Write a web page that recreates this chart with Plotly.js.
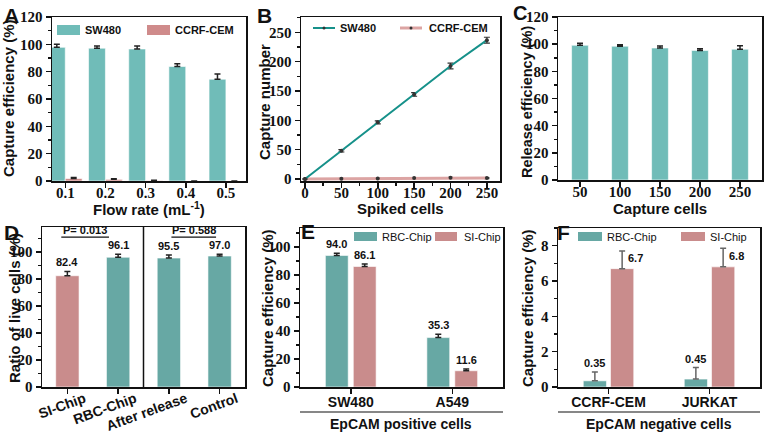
<!DOCTYPE html>
<html><head><meta charset="utf-8">
<script src="https://cdn.plot.ly/plotly-3.0.1.min.js"></script>
<style>html,body{margin:0;padding:0;background:#fff}#chart{width:764px;height:435px}</style>
</head><body><div id="chart"></div>
<script>
// ---------------- data ----------------
const flowRates = ['0.1', '0.2', '0.3', '0.4', '0.5'];
const flowSW480 = [97.8, 97.2, 96.6, 83.8, 74.5];
const flowSW480Err = [2.2, 1.5, 2.2, 2.0, 3.8];
const flowCCRF = [1.8, 1.2, 0.3, 0, 0];
const flowCCRFErr = [0.8, 0.5, 0.2, 0, 0];

const spikedCells = [0, 50, 100, 150, 200, 250];
const spikedSW480 = [0, 48, 96.5, 144, 192.5, 236.5];
const spikedSW480Err = [0, 2, 2.5, 3, 5, 5];
const spikedCCRF = [0, 0.5, 1, 1.5, 2, 1.5];
const spikedCCRFErr = [0, 0.5, 0.5, 0.8, 1, 0.8];

const captureCells = ['50', '100', '150', '200', '250'];
const releaseEff = [99.2, 98.5, 97.2, 95.4, 96.3];
const releaseErr = [1.5, 1.0, 1.5, 1.2, 2.5];

const viabGroups = ['SI-Chip', 'RBC-Chip', 'After release', 'Control'];
const viabVals = [82.4, 96.1, 95.5, 97.0];
const viabErr = [3.2, 2.2, 2.2, 1.3];
const viabLabels = ['82.4', '96.1', '95.5', '97.0'];
const pLabels = ['P= 0.013', 'P= 0.588'];

const posCells = ['SW480', 'A549'];
const posRBC = [94.0, 35.3];
const posRBCErr = [1.5, 2.3];
const posSI = [86.1, 11.6];
const posSIErr = [1.8, 1.3];
const posRBCLabels = ['94.0', '35.3'];
const posSILabels = ['86.1', '11.6'];

const negCells = ['CCRF-CEM', 'JURKAT'];
const negRBC = [0.35, 0.45];
const negRBCErr = [0.5, 0.65];
const negSI = [6.7, 6.8];
const negSIErr = [1.0, 1.05];
const negRBCLabels = ['0.35', '0.45'];
const negSILabels = ['6.7', '6.8'];

// ---------------- styles ----------------
const W = 764, H = 435;
const P = px => px / W;
const Q = py => 1 - py / H;
const teal1 = '#70bcb8', teal2 = '#67a8a4', pink1 = '#cf8b8b', pink2 = '#c98c8c';
const lineTeal = '#16918a', linePink = '#dca4a3';
const ink = '#111';
const serif = {family: 'serif', size: 15, color: ink, weight: 'bold'};
const sans = (size, weight) => ({family: 'Liberation Sans', size: size, color: ink, weight: weight || 'bold'});
const zeros = a => a.map(() => 0);
const upErr = (arr, color) => ({type: 'data', array: arr, arrayminus: zeros(arr), symmetric: false, color: color || '#222', thickness: 1.5, width: 3});
const edge = {color: 'rgba(255,255,255,0.6)', width: 1};
const minorY = d => ({ticks: 'outside', ticklen: 3, tickwidth: 1.5, tickcolor: ink, dtick: d});

function axis(px0, px1, extra) {
  return Object.assign({
    domain: [P(px0), P(px1)], showline: true, linecolor: ink, linewidth: 1.5, mirror: true,
    ticks: 'outside', ticklen: 5, tickwidth: 1.5, tickcolor: ink, showgrid: false, zeroline: false,
    tickfont: serif, fixedrange: true
  }, extra);
}
function yaxisDef(py0, py1, extra) {
  return Object.assign({
    domain: [Q(py1), Q(py0)], showline: true, linecolor: ink, linewidth: 1.5, mirror: true,
    ticks: 'outside', ticklen: 5, tickwidth: 1.5, tickcolor: ink, showgrid: false, zeroline: false,
    tickfont: serif, fixedrange: true
  }, extra);
}

const idx = a => a.map((_, i) => i);
const traces = [];

// A
traces.push({type: 'bar', x: idx(flowRates), y: flowSW480, xaxis: 'x', yaxis: 'y', width: 0.42, offset: -0.42,
  marker: {color: teal1, line: edge}, error_y: upErr(flowSW480Err), showlegend: false});
traces.push({type: 'bar', x: idx(flowRates), y: flowCCRF, xaxis: 'x', yaxis: 'y', width: 0.42, offset: 0,
  marker: {color: pink1, line: edge}, error_y: upErr(flowCCRFErr), showlegend: false});
// B
traces.push({type: 'scatter', mode: 'lines+markers', x: spikedCells, y: spikedCCRF, xaxis: 'x2', yaxis: 'y2',
  line: {color: linePink, width: 3}, marker: {color: '#333', size: 4},
  error_y: {type: 'data', array: spikedCCRFErr, color: '#333', thickness: 1.2, width: 2.5}, showlegend: false});
traces.push({type: 'scatter', mode: 'lines+markers', x: spikedCells, y: spikedSW480, xaxis: 'x2', yaxis: 'y2',
  line: {color: lineTeal, width: 2}, marker: {color: '#333', size: 4},
  error_y: {type: 'data', array: spikedSW480Err, color: '#333', thickness: 1.2, width: 3}, showlegend: false});
// C
traces.push({type: 'bar', x: idx(captureCells), y: releaseEff, xaxis: 'x3', yaxis: 'y3', width: 0.42,
  marker: {color: teal1, line: edge}, error_y: upErr(releaseErr), showlegend: false});
// D
traces.push({type: 'bar', x: idx(viabGroups), y: viabVals, xaxis: 'x4', yaxis: 'y4', width: 0.46,
  marker: {color: [pink2, teal2, teal2, teal2], line: edge}, error_y: upErr(viabErr), showlegend: false});
// E
const eW = 0.225, eOffR = -0.25, eOffS = 0.025;
traces.push({type: 'bar', x: idx(posCells), y: posRBC, xaxis: 'x5', yaxis: 'y5', width: eW, offset: eOffR,
  marker: {color: teal2, line: edge}, error_y: upErr(posRBCErr), showlegend: false});
traces.push({type: 'bar', x: idx(posCells), y: posSI, xaxis: 'x5', yaxis: 'y5', width: eW, offset: eOffS,
  marker: {color: pink2, line: edge}, error_y: upErr(posSIErr), showlegend: false});
// F
const fW = 0.23, fOffR = -0.25, fOffS = 0.02;
traces.push({type: 'bar', x: idx(negCells), y: negRBC, xaxis: 'x6', yaxis: 'y6', width: fW, offset: fOffR,
  marker: {color: teal2, line: edge}, error_y: upErr(negRBCErr, '#666'), showlegend: false});
traces.push({type: 'bar', x: idx(negCells), y: negSI, xaxis: 'x6', yaxis: 'y6', width: fW, offset: fOffS,
  marker: {color: pink2, line: edge}, error_y: upErr(negSIErr, '#666'), showlegend: false});

// ---------------- annotations ----------------
const ann = [];
function txt(text, x, y, font, o) {
  ann.push(Object.assign({text: text, x: x, y: y, xref: 'paper', yref: 'paper', showarrow: false, font: font,
    xanchor: 'center', yanchor: 'middle'}, o || {}));
}
[['A', 2, 2], ['B', 255, 2], ['C', 511, 0], ['D', 2, 219], ['E', 299, 218], ['F', 555, 219]].forEach(l =>
  txt(l[0], P(l[1]), Q(l[2]), sans(l[0] === 'C' ? 20 : 21), {xanchor: 'left', yanchor: 'top'}));
[['Capture efficiency (%)', 9, 98, 15], ['Capture number', 264, 102, 15], ['Release efficiency (%)', 527, 102, 14.5],
 ['Ratio of live cells (%)', 14, 308, 15], ['Capture efficiency (%)', 267, 308, 15], ['Capture efficiency (%)', 527, 308, 15]]
  .forEach(t => txt(t[0], P(t[1]), Q(t[2]), sans(t[3]), {textangle: -90}));
txt('Flow rate (mL<sup>-1</sup>)', P(149), Q(208), sans(15));
txt('Spiked cells', P(400), Q(208), sans(15));
txt('Capture cells', P(660), Q(208), sans(15));
txt('EpCAM positive cells', P(401), Q(424), sans(14));
txt('EpCAM negative cells', P(659), Q(424), sans(14));

function vlab(text, x, y, xa, ya, o) {
  ann.push(Object.assign({text: text, x: x, y: y, xref: xa, yref: ya, showarrow: false, font: sans(11),
    xanchor: 'center', yanchor: 'bottom', yshift: 1}, o || {}));
}
viabVals.forEach((v, i) => vlab(viabLabels[i], i, v + viabErr[i], 'x4', 'y4'));
posRBC.forEach((v, i) => vlab(posRBCLabels[i], i + eOffR + eW / 2, v + posRBCErr[i], 'x5', 'y5'));
posSI.forEach((v, i) => vlab(posSILabels[i], i + eOffS + eW / 2, v + posSIErr[i], 'x5', 'y5'));
negRBC.forEach((v, i) => vlab(negRBCLabels[i], i + fOffR + fW / 2, v + negRBCErr[i], 'x6', 'y6'));
negSI.forEach((v, i) => vlab(negSILabels[i], i + fOffS + fW / 2, v, 'x6', 'y6', {xanchor: 'left', xshift: 4, yshift: 3}));
const pBr = [[-0.12, 0.82], [2.05, 2.93]];
pBr.forEach((b, i) => vlab(pLabels[i], (b[0] + b[1]) / 2, 111, 'x4', 'y4', {yshift: -1}));

txt('SW480', P(83), Q(30), sans(11), {xanchor: 'left'});
txt('CCRF-CEM', P(173), Q(30), sans(11), {xanchor: 'left'});
txt('SW480', P(338), Q(28), sans(11), {xanchor: 'left'});
txt('CCRF-CEM', P(427), Q(28), sans(11), {xanchor: 'left'});
txt('RBC-Chip', P(380), Q(236.5), sans(11, 'normal'), {xanchor: 'left'});
txt('SI-Chip', P(462), Q(236.5), sans(11, 'normal'), {xanchor: 'left'});
txt('RBC-Chip', P(605), Q(236.5), sans(11, 'normal'), {xanchor: 'left'});
txt('SI-Chip', P(708), Q(236.5), sans(11, 'normal'), {xanchor: 'left'});

// ---------------- shapes ----------------
const shapes = [];
function rect(x0, y0, x1, y1, color) {
  shapes.push({type: 'rect', xref: 'paper', yref: 'paper', x0: P(x0), x1: P(x1), y0: Q(y1), y1: Q(y0),
    fillcolor: color, line: {width: 0}});
}
function pline(x0, y0, x1, y1, color, w) {
  shapes.push({type: 'line', xref: 'paper', yref: 'paper', x0: P(x0), x1: P(x1), y0: Q(y0), y1: Q(y1),
    line: {color: color, width: w}});
}
rect(57, 25, 80, 35, teal1); rect(147, 25, 170, 35, pink1);
pline(313, 28, 335, 28, lineTeal, 2); pline(400, 28, 422, 28, linePink, 3);
shapes.push({type: 'circle', xref: 'paper', yref: 'paper', x0: P(322.5), x1: P(325.5), y0: Q(29.5), y1: Q(26.5), fillcolor: '#333', line: {width: 0}});
shapes.push({type: 'circle', xref: 'paper', yref: 'paper', x0: P(409.5), x1: P(412.5), y0: Q(29.5), y1: Q(26.5), fillcolor: '#333', line: {width: 0}});
rect(354, 232, 377, 241, teal2); rect(435, 232, 457, 241, pink2);
rect(578, 232, 602, 241, teal2); rect(681, 232, 705, 241, pink2);
pline(300, 412, 503, 412, ink, 1.2);
pline(558, 412, 760, 412, ink, 1.2);
shapes.push({type: 'line', xref: 'x4', yref: 'y4 domain', x0: 1.5, x1: 1.5, y0: 0, y1: 1, line: {color: ink, width: 1.5}});
pBr.forEach(b => shapes.push({type: 'line', xref: 'x4', yref: 'y4', x0: b[0], x1: b[1], y0: 111, y1: 111, line: {color: ink, width: 1.2}}));

// ---------------- layout ----------------
const layout = {
  width: W, height: H, margin: {l: 0, r: 0, t: 0, b: 0}, paper_bgcolor: '#fff', plot_bgcolor: '#fff',
  font: {family: 'Liberation Sans', size: 14, color: ink},
  barmode: 'overlay', showlegend: false,
  xaxis: axis(52, 246, {anchor: 'y', type: 'linear', range: [-0.33, 4.5], tickvals: idx(flowRates), ticktext: flowRates, ticklabelstandoff: -8}),
  yaxis: yaxisDef(17, 181, {anchor: 'x', range: [0, 120], dtick: 20, minor: minorY(10)}),
  xaxis2: axis(301, 500, {anchor: 'y2', range: [-5.5, 268], dtick: 50, minor: minorY(25), ticklabelstandoff: -8}),
  yaxis2: yaxisDef(17, 181, {anchor: 'x2', range: [-3.4, 276], dtick: 50, minor: minorY(25)}),
  xaxis3: axis(558, 762, {anchor: 'y3', type: 'linear', range: [-0.55, 4.55], tickvals: idx(captureCells), ticktext: captureCells, ticklabelstandoff: -8}),
  yaxis3: yaxisDef(17, 180, {anchor: 'x3', range: [0, 120], dtick: 20, minor: minorY(10)}),
  xaxis4: axis(42, 245, {anchor: 'y4', type: 'linear', range: [-0.5, 3.5], tickvals: idx(viabGroups), ticktext: viabGroups,
    tickangle: -20, tickfont: sans(14), ticklabelshift: 17, ticklabelstandoff: -8}),
  yaxis4: yaxisDef(227, 387, {anchor: 'x4', range: [0, 118.5], dtick: 20, minor: minorY(10)}),
  xaxis5: axis(300, 503, {anchor: 'y5', type: 'linear', range: [-0.5, 1.5], tickvals: idx(posCells), ticktext: posCells, tickfont: sans(14), ticklabelstandoff: -3}),
  yaxis5: yaxisDef(228, 387, {anchor: 'x5', range: [0, 113.6], dtick: 20, minor: minorY(10)}),
  xaxis6: axis(558, 760, {anchor: 'y6', type: 'linear', range: [-0.5, 1.5], tickvals: idx(negCells), ticktext: negCells, tickfont: sans(14), ticklabelstandoff: -3}),
  yaxis6: yaxisDef(228, 387, {anchor: 'x6', range: [0, 9], dtick: 2, minor: minorY(1)}),
  annotations: ann, shapes: shapes
};
Plotly.newPlot('chart', traces, layout, {displayModeBar: false, staticPlot: true});
</script></body></html>
